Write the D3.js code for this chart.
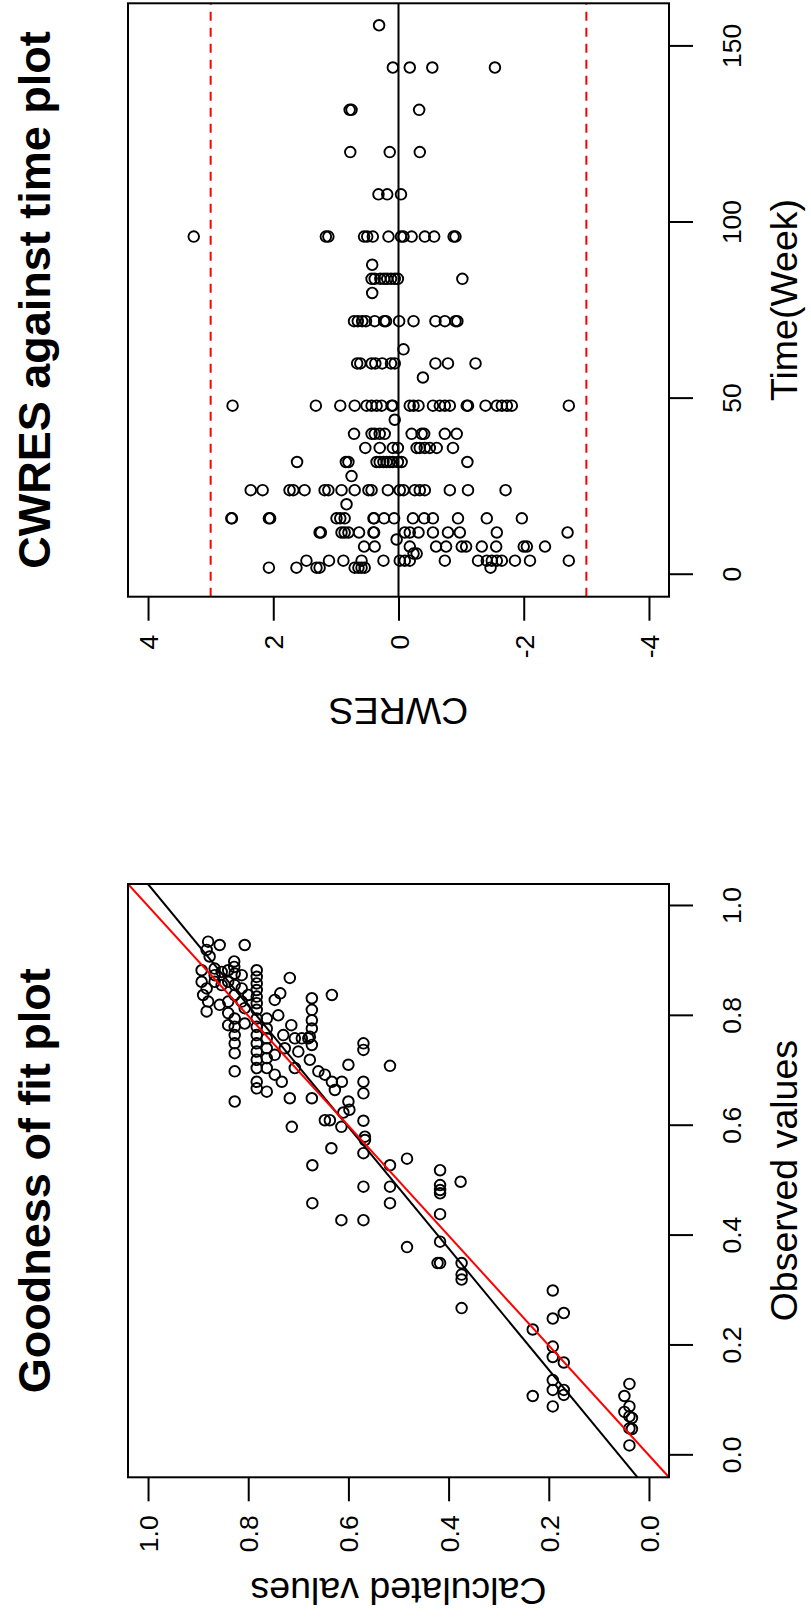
<!DOCTYPE html>
<html>
<head>
<meta charset="utf-8">
<script src="https://cdn.jsdelivr.net/npm/d3@7"></script>
<style>
  html, body { margin: 0; padding: 0; background: #fff; }
  svg { display: block; }
  text { font-family: "Liberation Sans", Arial, Helvetica, sans-serif; fill: #000; }
</style>
</head>
<body>
<svg id="chart" width="811" height="1621"></svg>
<script>
// ---------------- Data ----------------
// Goodness of fit: observed vs calculated (population prediction)
const observedValues = [
  0.935,0.929,0.929,0.920,0.908,0.899,0.889,0.883,0.886,0.880,
  0.883,0.877,0.874,0.883,0.871,0.859,0.847,0.835,0.823,0.811,
  0.869,0.862,0.850,0.838,0.826,0.862,0.856,0.862,0.856,0.850,
  0.838,0.826,0.826,0.838,0.820,0.808,0.841,0.829,0.838,0.832,
  0.811,0.792,0.777,0.762,0.747,0.795,0.780,0.765,0.750,0.732,
  0.699,0.783,0.786,0.795,0.780,0.765,0.750,0.735,0.720,0.705,
  0.680,0.668,0.795,0.777,0.759,0.741,0.723,0.705,0.662,0.783,
  0.759,0.759,0.759,0.765,0.741,0.735,0.720,0.711,0.693,0.680,
  0.650,0.650,0.699,0.693,0.680,0.680,0.665,0.644,0.644,0.874,
  0.814,0.805,0.801,0.729,0.705,
  0.750,0.738,0.709,0.680,0.659,0.629,0.624,0.610,0.610,0.598,
  0.609,0.598,0.580,0.574,0.550,0.559,0.528,0.540,0.528,0.489,
  0.489,0.519,0.492,0.483,0.477,0.498,0.459,0.459,0.428,0.428,
  0.439,0.389,0.379,
  0.350,0.350,0.350,0.329,0.320,0.268,0.300,0.259,0.249,0.229,
  0.198,0.179,0.169,0.137,0.119,0.119,0.110,0.108,0.089,0.130,
  0.108,0.089,0.079,0.071,0.068,0.049,0.048,0.018
];
const calculatedValues = [
  0.880,0.857,0.807,0.883,0.877,0.828,0.828,0.893,0.867,0.853,
  0.840,0.827,0.813,0.783,0.783,0.783,0.783,0.783,0.783,0.783,
  0.717,0.893,0.883,0.890,0.880,0.867,0.853,0.840,0.827,0.813,
  0.827,0.840,0.813,0.800,0.857,0.883,0.736,0.747,0.633,0.673,
  0.673,0.673,0.673,0.677,0.673,0.827,0.827,0.827,0.827,0.827,
  0.827,0.840,0.807,0.783,0.783,0.783,0.783,0.783,0.783,0.783,
  0.783,0.783,0.763,0.763,0.763,0.763,0.763,0.763,0.763,0.714,
  0.707,0.693,0.680,0.730,0.727,0.700,0.677,0.600,0.747,0.733,
  0.717,0.673,0.660,0.647,0.633,0.613,0.627,0.827,0.600,0.867,
  0.807,0.840,0.740,0.747,0.707,
  0.570,0.570,0.517,0.570,0.570,0.598,0.610,0.647,0.637,0.614,
  0.570,0.713,0.567,0.567,0.570,0.634,0.517,0.483,0.672,0.570,
  0.517,0.417,0.417,0.417,0.417,0.376,0.672,0.517,0.614,0.570,
  0.417,0.417,0.483,
  0.422,0.417,0.374,0.374,0.374,0.374,0.192,0.170,0.192,0.232,
  0.192,0.192,0.170,0.192,0.192,0.170,0.170,0.232,0.192,0.039,
  0.049,0.039,0.049,0.039,0.034,0.039,0.034,0.039
];
// fitted regression line of calculated on observed
const fitIntercept = 0.059;
const fitSlope = 0.905;

// CWRES by sampling week
const weeks = [156,144,132,120,108,96,88,84,80,72,64,60,56,48,44,40,36,32,28,24,20,16,12,10,8,6,4,2];
const cwresAtWeek = [
  [0.31],
  [0.09,-0.18,-0.54,-1.54],
  [0.78,0.75,-0.33],
  [0.77,0.14,-0.34],
  [0.32,0.18,-0.04],
  [3.27,1.16,1.12,0.55,0.50,0.41,0.16,-0.04,-0.08,-0.21,-0.42,-0.57,-0.88,-0.91],
  [0.42],
  [0.43,0.38,0.29,0.23,0.18,0.12,0.06,0.01,-1.02],
  [0.42],
  [0.71,0.65,0.58,0.52,0.38,0.23,0.20,-0.01,-0.24,-0.59,-0.74,-0.91,-0.94],
  [-0.08],
  [0.66,0.61,0.43,0.37,0.26,0.12,0.06,-0.59,-0.79,-1.23],
  [-0.39],
  [2.65,1.32,0.93,0.70,0.51,0.43,0.35,0.27,0.11,0.09,-0.18,-0.24,-0.32,-0.55,-0.66,-0.74,-0.82,-1.09,-1.11,-1.39,-1.57,-1.65,-1.73,-1.81,-2.72],
  [0.06],
  [0.71,0.43,0.38,0.30,0.22,-0.21,-0.37,-0.41,-0.74,-0.93],
  [0.53,0.30,0.09,0.01,-0.29,-0.34,-0.42,-0.50,-0.61,-0.87],
  [1.62,0.84,0.80,0.35,0.30,0.24,0.19,0.14,0.09,0.01,-0.05,-1.10],
  [0.75],
  [2.36,2.17,1.74,1.68,1.50,1.18,1.12,0.91,0.70,0.48,0.43,0.17,-0.02,-0.08,-0.26,-0.34,-0.42,-0.82,-1.11,-1.71],
  [0.83],
  [2.67,2.66,2.07,2.05,0.99,0.93,0.86,0.40,0.39,0.23,0.07,-0.23,-0.41,-0.55,-0.95,-1.41,-1.97],
  [1.26,1.24,0.91,0.86,0.80,0.63,0.40,0.39,-0.10,-0.18,-0.32,-0.55,-0.79,-0.98,-1.57,-2.70],
  [0.03],
  [0.55,0.38,-0.18,-0.60,-0.76,-1.01,-1.08,-1.33,-1.56,-2.00,-2.05,-2.34],
  [-0.24,-0.29],
  [1.47,1.11,0.88,0.59,0.24,-0.02,-0.10,-0.18,-0.74,-1.27,-1.41,-1.49,-1.57,-1.65,-1.86,-2.10,-2.72],
  [2.07,1.63,1.31,1.26,0.70,0.64,0.59,0.54,-1.47]
];
const cwresBounds = [-3, 3];

// tick values
const fractionTicks = [0, 0.2, 0.4, 0.6, 0.8, 1.0];
const weekTicks = [0, 50, 100, 150];
const cwresTicks = [-4, -2, 0, 2, 4];

// ---------------- Layout ----------------
// The page is drawn as a landscape sheet and turned a quarter turn.
const PAGE_W = 1621;
const svg = d3.select("#chart");
svg.append("rect").attr("width", 811).attr("height", 1621).attr("fill", "#fff");
const page = svg.append("g").attr("transform", `translate(0,${PAGE_W}) rotate(-90)`);

const plotTop = 128, plotBottom = 669;
const TICK = 24, TICK_FONT = 26.5, LAB_FONT = 37.5, TITLE_FONT = 45;

// plain hyphen-minus labels
const fmtFraction = d => d.toFixed(1);
const fmtInt = d => String(d);

function makePanel(id, left, right, xScale, yScale, xTicks, yTicks, xFmt, yFmt, title, xLab, yLab) {
  const g = page.append("g");
  g.append("clipPath").attr("id", id)
    .append("rect").attr("x", left).attr("y", plotTop)
    .attr("width", right - left).attr("height", plotBottom - plotTop);

  const xAxis = g.append("g").attr("transform", `translate(0,${plotBottom})`)
    .call(d3.axisBottom(xScale).tickValues(xTicks).tickSize(TICK).tickFormat(xFmt));
  const yAxis = g.append("g").attr("transform", `translate(${left},0)`)
    .call(d3.axisLeft(yScale).tickValues(yTicks).tickSize(TICK).tickPadding(14).tickFormat(yFmt));
  [xAxis, yAxis].forEach(a => {
    a.select(".domain").remove();
    a.selectAll("line").attr("stroke", "#000").attr("stroke-width", 2);
    a.selectAll("text").style("font-size", TICK_FONT + "px")
      .style("font-family", '"Liberation Sans", Arial, sans-serif').attr("fill", "#000");
  });
  xAxis.selectAll("text").attr("y", 72).attr("dy", 0);
  yAxis.selectAll("text").attr("dy", "0.36em");

  const cx = (left + right) / 2, cy = (plotTop + plotBottom) / 2;
  g.append("text").attr("x", cx).attr("y", 50).attr("text-anchor", "middle")
    .style("font-size", TITLE_FONT + "px").style("font-weight", "bold").text(title);
  g.append("text").attr("x", cx).attr("y", 797).attr("text-anchor", "middle")
    .style("font-size", LAB_FONT + "px").text(xLab);
  g.append("text").attr("transform", `translate(${left - 101},${cy}) rotate(-90)`)
    .attr("text-anchor", "middle").style("font-size", LAB_FONT + "px").text(yLab);

  const inner = g.append("g").attr("clip-path", `url(#${id})`);
  const frame = () => g.append("rect").attr("x", left).attr("y", plotTop)
    .attr("width", right - left).attr("height", plotBottom - plotTop)
    .attr("fill", "none").attr("stroke", "#000").attr("stroke-width", 2);
  return { g, inner, frame };
}

function drawCircles(sel, pts, x, y) {
  sel.selectAll("circle.pt").data(pts).join("circle").attr("class", "pt")
    .attr("cx", d => x(d[0])).attr("cy", d => y(d[1])).attr("r", 5.3)
    .attr("fill", "none").attr("stroke", "#000").attr("stroke-width", 1.9);
}

// ---------- Goodness of fit ----------
const gofLeft = 143.7, gofRight = 737;
const xObs = d3.scaleLinear().domain([-0.04, 1.04]).range([gofLeft, gofRight]);
const yCalc = d3.scaleLinear().domain([-0.04, 1.04]).range([plotBottom, plotTop]);
const gof = makePanel("clipGof", gofLeft, gofRight, xObs, yCalc, fractionTicks, fractionTicks,
  fmtFraction, fmtFraction, "Goodness of fit plot", "Observed values", "Calculated values");
const gofPts = observedValues.map((o, i) => [o, calculatedValues[i]]);
drawCircles(gof.inner, gofPts, xObs, yCalc);
const [o0, o1] = xObs.domain();
gof.inner.append("line")
  .attr("x1", xObs(o0)).attr("y1", yCalc(fitIntercept + fitSlope * o0))
  .attr("x2", xObs(o1)).attr("y2", yCalc(fitIntercept + fitSlope * o1))
  .attr("stroke", "#000").attr("stroke-width", 2);
gof.inner.append("line")
  .attr("x1", xObs(o0)).attr("y1", yCalc(o0))
  .attr("x2", xObs(o1)).attr("y2", yCalc(o1))
  .attr("stroke", "#ff0000").attr("stroke-width", 2);
gof.frame();

// ---------- CWRES against time ----------
const cwLeft = 1024.3, cwRight = 1617.7;
const xWeek = d3.scaleLinear().domain([-6.24, 162.24]).range([cwLeft, cwRight]);
const yCw = d3.scaleLinear().domain([-4.32, 4.32]).range([plotBottom, plotTop]);
const cw = makePanel("clipCw", cwLeft, cwRight, xWeek, yCw, weekTicks, cwresTicks,
  fmtInt, fmtInt, "CWRES against time plot", "Time(Week)", "CWRES");
const cwPts = weeks.flatMap((w, i) => cwresAtWeek[i].map(v => [w, v]));
drawCircles(cw.inner, cwPts, xWeek, yCw);
const [w0, w1] = xWeek.domain();
cw.inner.append("line")
  .attr("x1", xWeek(w0)).attr("x2", xWeek(w1)).attr("y1", yCw(0)).attr("y2", yCw(0))
  .attr("stroke", "#000").attr("stroke-width", 2);
cw.inner.selectAll("line.bound").data(cwresBounds).join("line").attr("class", "bound")
  .attr("x1", xWeek(w0)).attr("x2", xWeek(w1))
  .attr("y1", d => yCw(d)).attr("y2", d => yCw(d))
  .attr("stroke", "#ff0000").attr("stroke-width", 2).attr("stroke-dasharray", "9,7");
cw.frame();
</script>
</body>
</html>
